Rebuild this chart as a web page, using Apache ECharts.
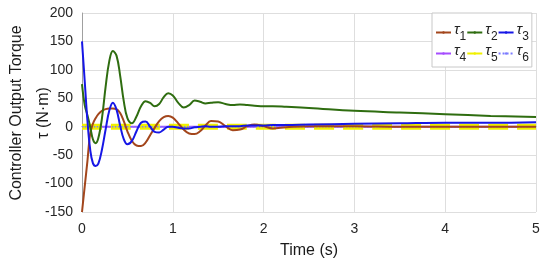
<!DOCTYPE html>
<html>
<head>
<meta charset="utf-8">
<script src="https://cdn.jsdelivr.net/npm/echarts@6/dist/echarts.min.js"></script>
<style>
  html, body { margin: 0; padding: 0; background: #fff; }
  #chart { width: 550px; height: 265px; }
</style>
</head>
<body>
<div id="chart"></div>
<script>
// time samples (s)
var time = [0, 0.03, 0.06, 0.09, 0.12, 0.15, 0.18, 0.22, 0.26, 0.3, 0.34, 0.38, 0.42, 0.46, 0.5, 0.55, 0.6, 0.65, 0.7, 0.75, 0.8, 0.85, 0.9, 0.95, 1.0, 1.06, 1.12, 1.18, 1.24, 1.3, 1.36, 1.42, 1.5, 1.58, 1.66, 1.74, 1.82, 1.9, 2.0, 2.1, 2.25, 2.5, 3, 3.5, 4, 4.5, 5];
var tau1 = [-150, -105, -60, -12, 5, 15, 22, 28, 31, 32, 32, 31, 24, 10, -8, -25, -33, -34, -28, -15, -2, 10, 17, 19, 16, 6, -5, -12, -13, -8, 2, 10, 9, 1, -6, -5, 1, 4, 1, -3, -1, 1, 1, 0, 0, 0, 0];
var tau2 = [75, 38, 20, 0, -22, -29, -20, 15, 70, 115, 133, 125, 90, 45, 15, 6, 18, 36, 45, 42, 36, 40, 52, 59, 55, 42, 34, 38, 46, 44, 41, 42, 43, 40, 38, 39, 38, 37, 36, 36, 35, 33, 28, 25, 22, 19, 17];
var tau3 = [150, 80, 10, -40, -64, -69, -65, -40, -5, 28, 42, 30, 2, -22, -31, -25, -8, 7, 9, 0, -9, -10, -5, 0, 0, -2, -3, -3, -1, 0, 1, 0, 0, 1, 1, 1, 2, 2, 2, 3, 3, 4, 5, 6, 7, 7, 8];
var flatTime = [0, 5];
var tau4 = [0, 0];
var tau5 = [0, 0];
var tau6 = [0, 0];

var names = ['τ1', 'τ2', 'τ3', 'τ4', 'τ5', 'τ6'];
var xTicks = [0, 1, 2, 3, 4, 5];
var yTitle = ['Controller Output Torque', 'τ (N·m)'];

function pairs(t, v) {
  var out = [];
  for (var i = 0; i < t.length; i++) out.push([t[i], v[i]]);
  return out;
}

var chart = echarts.init(document.getElementById('chart'));
var font = 'Arial, "Liberation Sans", sans-serif';

function line(name, t, v, color, width, type) {
  return {
    name: name, type: 'line', data: pairs(t, v), smooth: 0.4,
    showSymbol: false, symbol: 'none', animation: false,
    lineStyle: { color: color, width: width, type: type || 'solid' },
    itemStyle: { color: color }
  };
}

function yName(txt, x) {
  return {
    type: 'text', x: x, y: 113, rotation: Math.PI / 2,
    style: { text: txt, font: '16px ' + font, fill: '#1a1a1a', align: 'center', verticalAlign: 'middle' }
  };
}

chart.setOption({
  animation: false,
  grid: { left: 82, right: 14, top: 13, bottom: 53, outerBoundsMode: 'none', containLabel: false },
  graphic: [yName(yTitle[0], 17), yName(yTitle[1], 44)],
  legend: {
    data: names,
    left: 432, top: 13, width: 96,
    padding: [9, 3, 3, 3],
    itemGap: 0, itemWidth: 15, itemHeight: 3,
    backgroundColor: '#fff',
    borderColor: '#c8c8c8', borderWidth: 1,
    formatter: function (n) { return '{a|τ}{b|' + n.slice(1) + '}'; },
    textStyle: {
      padding: [0, 0, 0, -2],
      rich: {
        a: { fontFamily: font, fontSize: 15, fontStyle: 'italic', color: '#222', lineHeight: 23, padding: [0, 0, 6, 0] },
        b: { fontFamily: font, fontSize: 12, color: '#222', lineHeight: 23, padding: [8, 0, 0, 0] }
      }
    }
  },
  xAxis: {
    type: 'value', min: 0, max: 5, interval: 1,
    name: 'Time (s)', nameLocation: 'middle', nameGap: 31,
    nameTextStyle: { fontFamily: font, fontSize: 16, color: '#1a1a1a' },
    axisLine: { show: true, lineStyle: { color: '#a0a0a0' } },
    axisTick: { show: false },
    axisLabel: { fontFamily: font, fontSize: 14, color: '#262626', margin: 10,
      customValues: xTicks },
    splitLine: { show: true, lineStyle: { color: '#dedede' } }
  },
  yAxis: {
    type: 'value', min: -150, max: 200, interval: 50,
    axisLine: { show: true, lineStyle: { color: '#a0a0a0' } },
    axisTick: { show: false },
    axisLabel: { fontFamily: font, fontSize: 14, color: '#262626', margin: 9 },
    splitLine: { show: true, lineStyle: { color: '#dedede' } }
  },
  series: [
    line('τ4', flatTime, tau4, '#a64dff', 2),
    line('τ5', flatTime, tau5, '#f0f000', 6, [20, 9]),
    line('τ6', flatTime, tau6, '#7c7cff', 1.5, 'dotted'),
    line('τ1', time, tau1, '#a3461c', 2),
    line('τ2', time, tau2, '#2f6d10', 2),
    line('τ3', time, tau3, '#1616e6', 2)
  ]
});
</script>
</body>
</html>
